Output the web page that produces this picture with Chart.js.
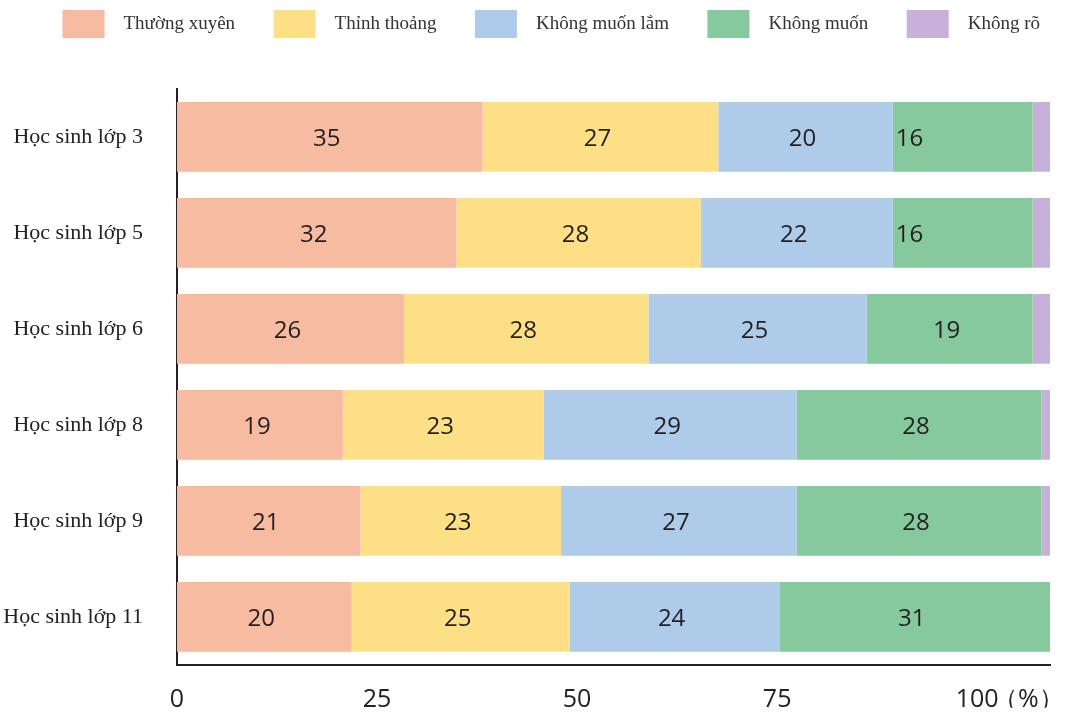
<!DOCTYPE html>
<html>
<head>
<meta charset="utf-8">
<script src="https://cdn.jsdelivr.net/npm/chart.js@4/dist/chart.umd.min.js"></script>
<style>
  body { margin: 0; background: #fff; }
</style>
</head>
<body>
<canvas id="chart" width="1079" height="712"></canvas>
<script>
// categories (top to bottom)
const groups = ["Học sinh lớp 3", "Học sinh lớp 5", "Học sinh lớp 6", "Học sinh lớp 8", "Học sinh lớp 9", "Học sinh lớp 11"];

// series values (%)
const thuongXuyen = [35, 32, 26, 19, 21, 20];
const thinhThoang = [27, 28, 28, 23, 23, 25];
const khongMuonLam = [20, 22, 25, 29, 27, 24];
const khongMuon = [16, 16, 19, 28, 28, 31];
const khongRo = [2, 2, 2, 1, 1, 0];

const xTickValues = [0, 25, 50, 75, 100];
const unitLabel = "（%）";

// labels that sit at the left of their segment instead of centered: [dataset, row]
const leftLabels = [[3, 0], [3, 1]];

const serif = "'Liberation Serif', 'DejaVu Serif', serif";
const sans = "'Open Sans', 'Noto Sans', sans-serif";

// draws the numbers inside the bars
const barLabels = {
  id: "barLabels",
  afterDatasetsDraw(chart) {
    const ctx = chart.ctx;
    ctx.save();
    ctx.font = "24px " + sans;
    ctx.fillStyle = "#231f20";
    ctx.textBaseline = "middle";
    chart.data.datasets.forEach((ds, i) => {
      if (ds.noLabel) return;
      const meta = chart.getDatasetMeta(i);
      meta.data.forEach((bar, j) => {
        const v = ds.data[j];
        if (!v) return;
        const left = Math.min(bar.x, bar.base);
        const right = Math.max(bar.x, bar.base);
        if (leftLabels.some(p => p[0] === i && p[1] === j)) {
          ctx.textAlign = "left";
          ctx.fillText(String(v), left + 3, bar.y + 2);
        } else {
          ctx.textAlign = "center";
          ctx.fillText(String(v), (left + right) / 2 - 3, bar.y + 2);
        }
      });
    });
    ctx.restore();
  }
};

const makeSet = (label, data, color) => ({
  label: label,
  data: data,
  backgroundColor: color,
  borderWidth: 0,
  barPercentage: 0.727,
  categoryPercentage: 1
});

const datasets = [
  makeSet("Thường xuyên", thuongXuyen, "#f7bba2"),
  makeSet("Thỉnh thoảng", thinhThoang, "#fddf86"),
  makeSet("Không muốn lắm", khongMuonLam, "#aecbea"),
  makeSet("Không muốn", khongMuon, "#86c99c"),
  Object.assign(makeSet("Không rõ", khongRo, "#c7b1d9"), { noLabel: true })
];

new Chart(document.getElementById("chart").getContext("2d"), {
  type: "bar",
  data: { labels: groups, datasets: datasets },
  options: {
    indexAxis: "y",
    responsive: false,
    animation: false,
    layout: { padding: { left: 0, right: 29, top: 0, bottom: 1 } },
    plugins: {
      tooltip: { enabled: false },
      legend: {
        position: "top",
        align: "end",
        labels: {
          boxWidth: 42,
          boxHeight: 28,
          padding: 10,
          color: "#333",
          font: { family: serif, size: 19 },
          generateLabels(chart) {
            const items = Chart.defaults.plugins.legend.labels.generateLabels(chart);
            items.forEach((it, k) => {
              it.text = "  " + it.text + (k < items.length - 1 ? "      " : "");
            });
            return items;
          }
        }
      }
    },
    scales: {
      x: {
        stacked: true,
        min: 0,
        max: 100,
        position: "top",
        grid: { display: false },
        border: { display: false },
        ticks: { display: false },
        afterFit(s) { s.height = 41; }
      },
      x2: {
        type: "linear",
        position: "bottom",
        min: 0,
        max: 109.1,
        grid: { display: false, drawTicks: false },
        border: { color: "#222", width: 2 },
        afterBuildTicks(s) {
          s.ticks = xTickValues.concat([106.4]).map(v => ({ value: v }));
        },
        ticks: {
          autoSkip: false,
          maxRotation: 0,
          padding: 20,
          color: "#222",
          font: { family: sans, size: 25 },
          callback: (v) => xTickValues.includes(v) ? String(v) : unitLabel
        },
        afterFit(s) {
          s.height = 43;
          s.paddingLeft = 0;
          s.paddingRight = 0;
        }
      },
      y: {
        stacked: true,
        grid: { display: false, drawTicks: false },
        border: { color: "#222", width: 2 },
        ticks: {
          padding: 34,
          color: "#222",
          font: { family: serif, size: 22 }
        },
        afterFit(s) { s.width = 177; }
      }
    }
  },
  plugins: [barLabels]
});
</script>
</body>
</html>
